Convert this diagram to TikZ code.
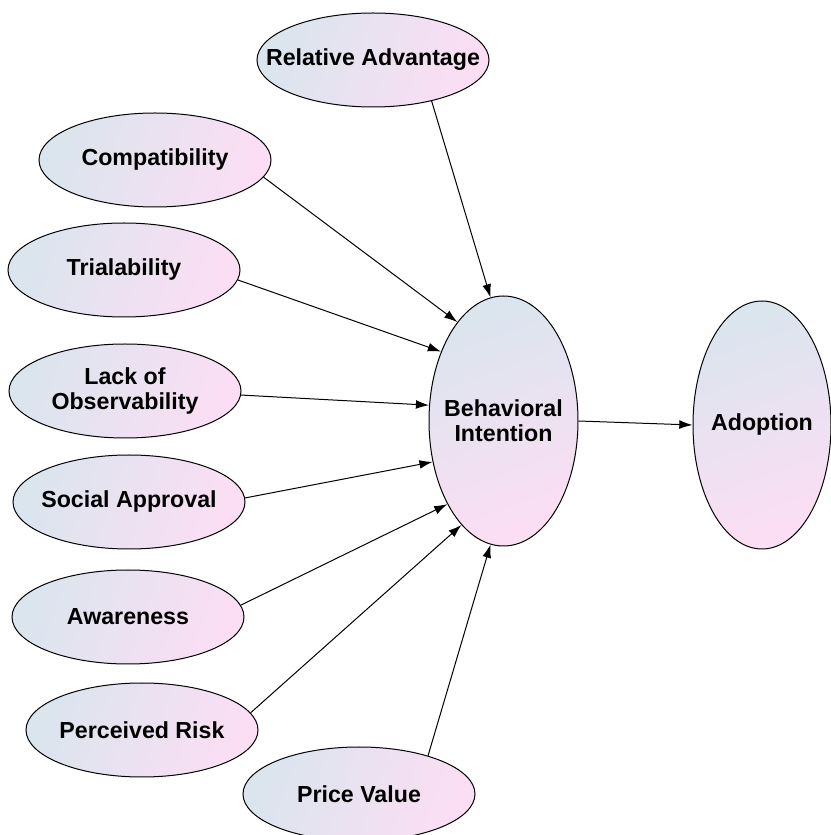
\documentclass[tikz,border=0pt]{standalone}
\usepackage{fontspec}
\setmainfont{Liberation Sans}
\usetikzlibrary{shapes.geometric,arrows.meta}

\definecolor{shadeblue}{RGB}{218,229,238}
\definecolor{shadepink}{RGB}{252,222,244}

% zero-width line, so the ellipse keeps its given size
\newcommand{\nodetext}[1]{\makebox[0pt]{#1}}

\begin{document}
\begin{tikzpicture}[
  construct/.style={ellipse, draw, line width=.02cm, inner sep=0pt, align=center,
    font=\fontsize{13.2}{14.2}\selectfont\bfseries,
    left color=shadeblue, right color=shadepink, shading angle=70},
  small/.style={construct, minimum width=4.64cm, minimum height=1.88cm},
  tall/.style={construct, shading angle=20},
  link/.style={line width=.02cm, ->, >={Latex[length=7.5pt,width=5pt]}}
]

\useasboundingbox (0,0) rectangle (16.62,16.70);

% antecedents
\node[small] (reladv) at (7.46,15.50) {\nodetext{Relative Advantage}};
\node[small] (compat) at (3.10,13.50) {\nodetext{Compatibility}};
\node[small] (trial) at (2.48,11.30) {\nodetext{Trialability}};
\node[small] (observ) at (2.50,8.88) {\nodetext{Lack of}\\\nodetext{Observability}};
\node[small] (social) at (2.58,6.66) {\nodetext{Social Approval}};
\node[small] (aware) at (2.56,4.36) {\nodetext{Awareness}};
\node[small] (risk) at (2.84,2.10) {\nodetext{Perceived Risk}};
\node[small] (price) at (7.18,0.82) {\nodetext{Price Value}};

% intention and outcome
\node[tall, minimum width=2.98cm, minimum height=5cm] (intent) at (10.07,8.28) {\nodetext{Behavioral}\\\nodetext{Intention}};
\node[tall, minimum width=2.76cm, minimum height=4.96cm] (adopt) at (15.24,8.20) {\nodetext{Adoption}};

\draw[link] (reladv.-35) -- (intent.96);
\draw[link] (compat.-9) -- (intent.115);
\draw[link] (trial.-5) -- (intent.132);
\draw[link] (observ.-2) -- (intent.168);
\draw[link] (social.2) -- (intent.210);
\draw[link] (aware.6) -- (intent.236);
\draw[link] (risk.9) -- (intent.248);
\draw[link] (price.29) -- (intent.264);

\draw[link] (intent.east) -- (adopt.west);

\end{tikzpicture}
\end{document}
